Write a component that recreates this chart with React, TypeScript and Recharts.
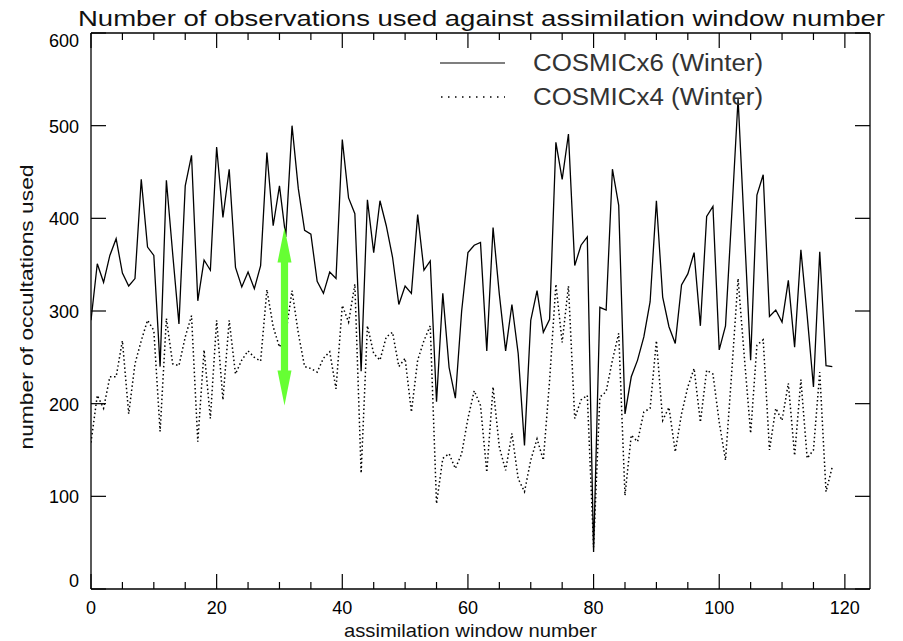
import React from 'react';
import { LineChart, Line, XAxis, YAxis, Legend, ReferenceLine } from 'recharts';

const cosmicX6 = [
  290, 351, 331, 360, 378, 341, 327, 335, 442, 369,
  360, 240, 441, 362, 286, 435, 468, 311, 355, 344,
  477, 401, 453, 347, 326, 342, 324, 349, 471, 392,
  435, 380, 500, 432, 387, 383, 332, 319, 342, 335,
  485, 422, 405, 235, 420, 363, 419, 392, 358, 307,
  327, 319, 404, 344, 354, 202, 319, 239, 206, 300,
  363, 371, 374, 257, 390, 318, 257, 307, 254, 155,
  290, 322, 277, 291, 482, 442, 491, 349, 371, 380,
  40, 304, 301, 453, 414, 189, 229, 247, 272, 310,
  419, 315, 283, 265, 328, 340, 363, 284, 402, 413,
  258, 284, 405, 529, 388, 247, 425, 447, 294, 301,
  288, 333, 261, 366, 295, 218, 364, 241, 240,
];

const cosmicX4 = [
  158, 209, 195, 229, 229, 268, 189, 243, 268, 290,
  279, 170, 292, 243, 241, 272, 295, 159, 258, 184,
  290, 204, 290, 232, 247, 257, 250, 246, 323, 283,
  261, 275, 322, 276, 240, 238, 234, 249, 256, 216,
  306, 288, 329, 125, 284, 254, 247, 272, 277, 240,
  249, 191, 247, 268, 284, 92, 141, 146, 130, 146,
  184, 214, 198, 126, 218, 153, 128, 168, 119, 105,
  139, 162, 139, 225, 329, 266, 327, 184, 204, 209,
  45, 207, 213, 247, 276, 101, 166, 159, 191, 195,
  268, 182, 196, 148, 189, 218, 238, 180, 236, 232,
  180, 139, 235, 335, 250, 168, 263, 269, 150, 195,
  182, 222, 144, 226, 141, 150, 234, 105, 132,
];

const xTicks = [0, 5, 10, 15, 20, 25, 30, 35, 40, 45, 50, 55, 60, 65, 70, 75, 80, 85, 90, 95, 100, 105, 110, 115, 120];
const yTicks = [0, 100, 200, 300, 400, 500, 600];
const seriesNames = ['COSMICx6 (Winter)', 'COSMICx4 (Winter)'];

// green double arrow marking the gap between the two runs
const arrowWindow = 30.8;
const arrowTop = 390;
const arrowBottom = 198;

const FONT = '"Liberation Sans", Arial, sans-serif';

// frame layout
const W = 903;
const H = 641;
const PAD_L = 91;
const PAD_R = 33;
const PAD_T = 33;
const PAD_B = 52;
const PLOT_W = W - PAD_L - PAD_R;
const PLOT_H = H - PAD_T - PAD_B;

const DOTS = '1.5 2.6';

const data = cosmicX6.map((v, i) => ({ window: i, x6: v, x4: cosmicX4[i] }));

// bottom ticks, mirrored on the top edge of the frame
const XTick = (props: any) => {
  const { x, y, payload } = props;
  const major = payload.value % 20 === 0;
  const len = major ? 15 : 7;
  const top = y - PLOT_H;
  return (
    <g>
      <line x1={x} x2={x} y1={y} y2={y - len} stroke="#000" strokeWidth={1.2} />
      <line x1={x} x2={x} y1={top} y2={top + len} stroke="#000" strokeWidth={1.2} />
      {major && (
        <text x={x} y={y + 25} textAnchor="middle" fontSize={18} fontFamily={FONT} fill="#000">
          {payload.value}
        </text>
      )}
    </g>
  );
};

// left ticks, mirrored on the right edge
const YTick = (props: any) => {
  const { x, y, payload } = props;
  const v = payload.value;
  const dy = v === 600 ? 14 : v === 0 ? -2 : 7;
  const right = x + PLOT_W;
  return (
    <g>
      <line x1={x} x2={x + 15} y1={y} y2={y} stroke="#000" strokeWidth={1.2} />
      <line x1={right} x2={right - 15} y1={y} y2={y} stroke="#000" strokeWidth={1.2} />
      <text x={x - 12} y={y + dy} textAnchor="end" fontSize={18} fontFamily={FONT} fill="#000">
        {v}
      </text>
    </g>
  );
};

const TitleLabel = () => (
  <text x={PAD_L + PLOT_W / 2 + 1} y={26} textAnchor="middle" fontSize={22} fontFamily={FONT}
    fill="#111" textLength={807} lengthAdjust="spacingAndGlyphs">
    Number of observations used against assimilation window number
  </text>
);

const XLabel = () => (
  <text x={PAD_L + PLOT_W / 2 - 10} y={H - 4} textAnchor="middle" fontSize={19} fontFamily={FONT}
    fill="#111" textLength={253} lengthAdjust="spacingAndGlyphs">
    assimilation window number
  </text>
);

const YLabel = () => {
  const cy = PAD_T + PLOT_H / 2 - 4;
  return (
    <text x={26} y={cy} transform={`rotate(-90 26 ${cy})`} textAnchor="middle" dominantBaseline="central"
      fontSize={19} fontFamily={FONT} fill="#111" textLength={285} lengthAdjust="spacingAndGlyphs">
      number of occultations used
    </text>
  );
};

const GreenArrow = (props: any) => {
  const { x1, y1, y2 } = props;
  const top = Math.min(y1, y2);
  const bottom = Math.max(y1, y2);
  const hw = 7;
  const sw = 3.6;
  const hl = 35;
  const pts = [
    [x1, top], [x1 + hw, top + hl], [x1 + sw, top + hl], [x1 + sw, bottom - hl],
    [x1 + hw, bottom - hl], [x1, bottom], [x1 - hw, bottom - hl], [x1 - sw, bottom - hl],
    [x1 - sw, top + hl], [x1 - hw, top + hl],
  ];
  return <polygon points={pts.map((p) => p.join(',')).join(' ')} fill="#66ff33" />;
};

const LegendBox = () => (
  <svg width={360} height={75} style={{ display: 'block' }}>
    <line x1={10} x2={75} y1={18} y2={18} stroke="#000" strokeWidth={1.2} />
    <line x1={11} x2={75} y1={52} y2={52} stroke="#000" strokeWidth={1.5} strokeDasharray="1.5 5.5" />
    <text x={103} y={26} fontSize={23} fontFamily={FONT} fill="#333" textLength={230} lengthAdjust="spacingAndGlyphs">
      {seriesNames[0]}
    </text>
    <text x={103} y={60} fontSize={23} fontFamily={FONT} fill="#333" textLength={230} lengthAdjust="spacingAndGlyphs">
      {seriesNames[1]}
    </text>
  </svg>
);

export default function App() {
  return (
    <div style={{ position: 'absolute', left: 0, top: 0, width: W, height: H, background: '#fff' }}>
      <LineChart width={W} height={H} data={data} margin={{ top: 0, right: 0, bottom: 0, left: 0 }}>
        <XAxis
          dataKey="window"
          type="number"
          domain={[0, 124]}
          ticks={xTicks}
          interval={0}
          allowDataOverflow
          height={PAD_B}
          tickSize={0}
          tickMargin={0}
          tickLine={false}
          axisLine={{ stroke: '#000', strokeWidth: 1.3 }}
          tick={(p: any) => <XTick {...p} />}
          label={<XLabel />}
        />
        <XAxis
          xAxisId="top"
          orientation="top"
          type="number"
          domain={[0, 124]}
          allowDataOverflow
          height={PAD_T}
          tick={false}
          tickLine={false}
          axisLine={{ stroke: '#000', strokeWidth: 1.3 }}
          label={<TitleLabel />}
        />
        <YAxis
          type="number"
          domain={[0, 600]}
          ticks={yTicks}
          interval={0}
          allowDataOverflow
          width={PAD_L}
          tickSize={0}
          tickMargin={0}
          tickLine={false}
          axisLine={{ stroke: '#000', strokeWidth: 1.3 }}
          tick={(p: any) => <YTick {...p} />}
          label={<YLabel />}
        />
        <YAxis
          yAxisId="right"
          orientation="right"
          type="number"
          domain={[0, 600]}
          allowDataOverflow
          width={PAD_R}
          tick={false}
          tickLine={false}
          axisLine={{ stroke: '#000', strokeWidth: 1.3 }}
        />
        <Legend
          layout="vertical"
          align="center"
          verticalAlign="middle"
          width={360}
          height={75}
          wrapperStyle={{ left: 430, top: 45, width: 360, height: 75 }}
          content={() => <LegendBox />}
        />
        <Line
          dataKey="x6"
          name={seriesNames[0]}
          stroke="#000"
          strokeWidth={1.3}
          dot={false}
          activeDot={false}
          isAnimationActive={false}
        />
        <Line
          dataKey="x4"
          name={seriesNames[1]}
          stroke="#000"
          strokeWidth={1.5}
          strokeDasharray={DOTS}
          dot={false}
          activeDot={false}
          isAnimationActive={false}
        />
        <ReferenceLine
          segment={[{ x: arrowWindow, y: arrowTop }, { x: arrowWindow, y: arrowBottom }]}
          stroke="#66ff33"
          shape={(p: any) => <GreenArrow {...p} />}
        />
      </LineChart>
    </div>
  );
}
